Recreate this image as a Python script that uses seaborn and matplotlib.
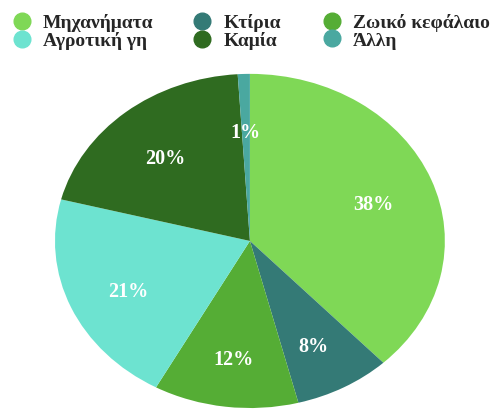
import matplotlib
matplotlib.use("Agg")
import matplotlib.pyplot as plt
import seaborn as sns
from matplotlib.lines import Line2D

# data
categories = ['Μηχανήματα', 'Κτίρια', 'Ζωικό κεφάλαιο', 'Αγροτική γη', 'Καμία', 'Άλλη']
shares = [38, 8, 12, 21, 20, 1]
colors = ['#7fd856', '#347a76', '#55ad35', '#6de3d0', '#2f6b20', '#4aa8a0']

sns.set_theme(style="white")
plt.rcParams['font.family'] = ['Liberation Serif', 'DejaVu Serif']

fig = plt.figure(figsize=(4.91, 4.10), dpi=100)
ax = fig.add_axes([0.112, 0.0024, 0.794, 0.815])

palette = sns.color_palette(colors)
wedges, texts, autotexts = ax.pie(
    shares, colors=palette, startangle=90, counterclock=False,
    autopct='%d%%', pctdistance=0.68,
    wedgeprops=dict(linewidth=0, edgecolor='none'),
    textprops=dict(color='white', fontsize=14.5, fontweight='bold'),
)
for t in autotexts:
    x, y = t.get_position()
    t.set_position((x, y - 0.03))
ax.set_aspect('auto')
ax.set_xlim(-1, 1)
ax.set_ylim(-1, 1)
ax.axis('off')
for w in wedges:
    w.set_clip_on(False)

# legend: three columns, filled row by row
col_x = [0.025, 0.392, 0.656]
for k, x0 in enumerate(col_x):
    idx = [k, k + 3]
    handles = [Line2D([0], [0], marker='o', linestyle='', markersize=12,
                      markerfacecolor=colors[i], markeredgecolor=colors[i]) for i in idx]
    leg = fig.legend(handles, [categories[i] for i in idx], loc='upper left',
                     bbox_to_anchor=(x0, 0.965), frameon=False,
                     prop=dict(family='Liberation Serif', weight='bold', size=14),
                     handletextpad=0.58, labelspacing=0.0, handlelength=1.0,
                     borderpad=0, borderaxespad=0)

fig.savefig('out.png', dpi=100)
